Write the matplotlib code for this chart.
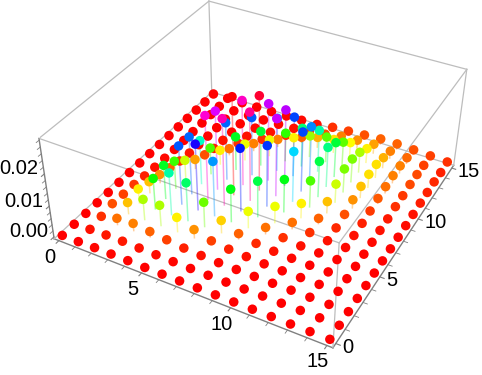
import numpy as np, matplotlib
matplotlib.use('Agg')
import matplotlib.pyplot as plt
from matplotlib.colors import hsv_to_rgb
from matplotlib.ticker import MultipleLocator, NullFormatter
from matplotlib.transforms import offset_copy
from mpl_toolkits.mplot3d import proj3d
from mpl_toolkits.mplot3d.art3d import Line3DCollection

plt.rcParams['font.family'] = ['Liberation Sans', 'DejaVu Sans']

xs = np.arange(16)
ys = np.arange(16)
x_ticks = [0, 5, 10, 15]
y_ticks = [0, 5, 10, 15]
z_ticks = [0.00, 0.01, 0.02]

# heights in units of 1e-3, one list per x value, y = 0..15
z_x00 = [0]*16
z_x01 = [0,.33,.98,1.64,1.31,1.15,.66,.33,.16,0,0,0,0,0,0,0]
z_x02 = [.10,.49,2.30,3.93,4.92,3.93,2.95,1.97,.98,.49,.23,.10,0,0,0,0]
z_x03 = [.10,.49,2.62,6.89,10.2,11.1,9.18,6.23,3.28,1.64,.66,.33,.10,0,0,0]
z_x04 = [.07,.33,1.97,6.89,13.8,19.0,18.7,14.4,8.85,4.92,2.30,.98,.33,.13,0,0]
z_x05 = [0,.23,1.31,4.92,12.5,21.3,26.9,25.3,18.7,11.1,5.57,2.62,.98,.33,.13,.07]
z_x06 = [0,.10,.66,2.95,8.20,17.7,27.6,31.2,27.2,19.0,11.5,5.57,2.62,.98,.33,.16]
z_x07 = [0,.03,.33,1.31,4.26,10.8,20.3,28.2,30.2,24.9,17.4,9.51,4.92,1.97,.98,.33]
z_x08 = [0,0,.13,.66,1.97,5.57,11.8,19.7,24.9,24.6,19.4,12.8,7.22,3.61,1.64,.98]
z_x09 = [0,0,.07,.33,.82,2.30,5.57,10.8,16.4,19.4,18.0,13.8,8.53,4.59,2.62,1.31]
z_x10 = [0,0,0,.10,.33,.98,2.30,4.92,8.85,11.8,13.1,11.5,8.53,5.25,2.95,1.64]
z_x11 = [0,0,0,0,.13,.33,.98,1.97,3.94,6.23,7.87,7.87,6.89,4.92,3.28,1.97]
z_x12 = [0,0,0,0,0,.13,.33,.82,1.64,2.95,3.94,4.59,4.59,3.61,2.62,1.97]
z_x13 = [0,0,0,0,0,.07,.16,.33,.66,1.15,1.80,2.30,2.62,2.62,2.13,1.64]
z_x14 = [0,0,0,0,0,0,.07,.16,.33,.49,.98,1.15,1.48,1.48,1.31,1.31]
z_x15 = [0,0,0,0,0,0,0,.07,.10,.23,.33,.56,.66,.82,.66,.98]

Z = np.array([z_x00,z_x01,z_x02,z_x03,z_x04,z_x05,z_x06,z_x07,z_x08,z_x09,
              z_x10,z_x11,z_x12,z_x13,z_x14,z_x15]) * 1e-3

fig = plt.figure(figsize=(4.82, 3.75), dpi=100)
S = 433.8
ax = fig.add_axes([40.44/482, -0.69/375, S/482, S/375], projection='3d')
ax.computed_zorder = False
X0, X1 = -0.3, 15.3
Z0, Z1 = -0.0006, 0.0305
ax.set_xlim(X0, X1, view_margin=0)
ax.set_ylim(X0, X1, view_margin=0)
ax.set_zlim(Z0, Z1, view_margin=0)
ax.view_init(36.126, -61.632, -0.17)
ax.set_proj_type('persp', focal_length=0.4481)
ax.set_box_aspect((1, 1, 0.3992))
ax.grid(False)
for a in (ax.xaxis, ax.yaxis, ax.zaxis):
    a.set_pane_color((1, 1, 1, 0))
    a.pane.set_edgecolor((1, 1, 1, 0))
    a.line.set_color('#808080')
    a.line.set_linewidth(1)
    a._axinfo['tick']['inward_factor'] = 0.18
    a._axinfo['tick']['outward_factor'] = 0
    a.set_major_formatter(NullFormatter())
ax.set_xticks(x_ticks)
ax.set_yticks(y_ticks)
ax.set_zticks(z_ticks)
ax.xaxis.set_minor_locator(MultipleLocator(1))
ax.yaxis.set_minor_locator(MultipleLocator(1))
ax.zaxis.set_minor_locator(MultipleLocator(.002))
ax.zaxis.set_ticks_position('lower')
ax.tick_params(axis='both', which='both', colors='#808080', width=.6)

# tick labels: real text, placed from the projected tick positions
M = ax.get_proj()
FS = 14.5
def label(x, y, z, s, ha, dx, dy):
    X, Y, _ = proj3d.proj_transform(x, y, z, M)
    ax.text2D(X, Y, s, fontsize=FS, ha=ha, va='center',
              transform=offset_copy(ax.transData, fig=fig, x=dx, y=dy, units='dots'))
for v in x_ticks:
    label(v, X0, Z0, str(v), 'center', -9, -16.5)
for v in y_ticks:
    label(X1, v, Z0, str(v), 'left', 6, -3.8)
for v in z_ticks:
    label(X0, X0, v, f'{v:.2f}', 'right', -6, 5)

# light box edges
for p, q in [((X0,X1,Z0),(X1,X1,Z0)), ((X0,X0,Z0),(X0,X1,Z0)), ((X0,X0,Z1),(X1,X0,Z1)),
             ((X1,X0,Z1),(X1,X1,Z1)), ((X1,X1,Z1),(X0,X1,Z1)), ((X0,X1,Z1),(X0,X0,Z1)),
             ((X1,X0,Z0),(X1,X0,Z1)), ((X1,X1,Z0),(X1,X1,Z1)), ((X0,X1,Z0),(X0,X1,Z1))]:
    ax.plot(*zip(p, q), color='#bdbdbd', lw=.9, zorder=0)

XX, YY = np.meshgrid(xs, ys, indexing='ij')
xv, yv, zv = XX.ravel(), YY.ravel(), Z.ravel()
hue = zv / zv.max()
col = hsv_to_rgb(np.c_[hue, np.ones_like(hue), np.ones_like(hue)])

segs = [[(a, b, 0.0), (a, b, c)] for a, b, c in zip(xv, yv, zv)]
stems = Line3DCollection(segs, colors=np.c_[col, np.full(len(col), .38)], linewidths=1.1, zorder=1)
ax.add_collection3d(stems)
ax.scatter(xv, yv, zv, s=47, c=col, depthshade=False, linewidths=0, zorder=2, alpha=1)
fig.savefig('out.png')
